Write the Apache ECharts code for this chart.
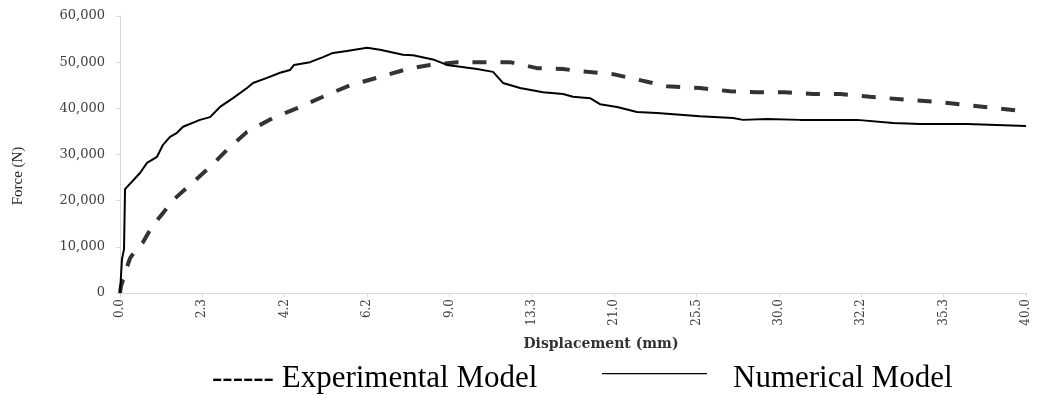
<!DOCTYPE html>
<html>
<head>
<meta charset="utf-8">
<script src="https://cdn.jsdelivr.net/npm/echarts@6/dist/echarts.min.js"></script>
<style>
html,body{margin:0;padding:0;background:#fff;}
#chart{width:1037px;height:394px;}
</style>
</head>
<body>
<div id="chart"></div>
<script>
// X tick labels (displacement, mm) — axis is evenly spaced by tick index
const xTickLabels = ['0.0','2.3','4.2','6.2','9.0','13.3','21.0','25.5','30.0','32.2','35.3','40.0'];
const yTickLabels = ['0','10,000','20,000','30,000','40,000','50,000','60,000'];

// Experimental model: x in tick-index units, force in N
const expX = [0,0.012,0.036,0.061,0.085,0.121,0.206,0.279,0.364,0.401,0.522,0.643,0.850,1.093,1.299,1.542,1.858,2.186,2.513,2.793,3.157,3.485,3.764,4.092,4.408,4.735,5.063,5.379,5.670,5.986,6.314,6.642,7.042,7.407,7.734,8.074,8.414,8.742,9.106,9.592,9.920,10.284,10.600,10.952];
const expY = [0,1500,2800,3500,5600,7500,9700,11000,13600,14700,17300,20100,23400,27300,31000,34900,37900,40300,42900,45000,46800,48500,49400,50000,50000,50000,48700,48500,47900,47400,46100,44800,44400,43700,43500,43500,43100,43100,42500,41800,41400,40700,40100,39400];

// Numerical model
const numX = [0,0.024,0.049,0.061,0.243,0.328,0.449,0.522,0.607,0.692,0.765,0.971,1.093,1.214,1.372,1.542,1.615,1.785,1.943,2.064,2.088,2.113,2.307,2.465,2.586,2.756,2.999,3.157,3.436,3.558,3.800,3.970,4.335,4.529,4.650,4.857,5.136,5.379,5.500,5.707,5.828,6.035,6.277,6.520,7.042,7.443,7.564,7.856,8.256,8.949,9.386,9.714,10.284,11.000];
const numY = [0,7300,9500,22500,26000,28200,29500,32100,33800,34700,36000,37500,38100,40300,42200,44400,45500,46600,47700,48300,47900,49400,50000,51100,52000,52400,53100,52700,51600,51500,50600,49400,48500,47900,45500,44400,43500,43100,42500,42200,40900,40300,39200,39000,38300,37900,37500,37700,37500,37500,36800,36600,36600,36200];

const zip = (xs, ys) => xs.map((x, i) => [x, ys[i]]);

const chart = echarts.init(document.getElementById('chart'), null, {renderer: 'canvas'});
const axisGray = '#d9d9d9';
const labelColor = '#404040';

chart.setOption({
  animation: false,
  backgroundColor: '#ffffff',
  grid: {left: 120, right: 11, top: 16, bottom: 101, containLabel: false},
  xAxis: {
    type: 'value', min: 0, max: 11, interval: 1,
    name: 'Displacement (mm)', nameLocation: 'middle', nameGap: 44,
    nameTextStyle: {fontFamily: 'DejaVu Serif', fontSize: 14, fontWeight: 'bold', color: '#333', padding: [0, 0, 0, 56]},
    axisLine: {show: true, lineStyle: {color: axisGray, width: 1}},
    axisTick: {show: true, length: 4, lineStyle: {color: axisGray}},
    splitLine: {show: false},
    axisLabel: {
      rotate: 90, margin: 6,
      fontFamily: 'DejaVu Serif', fontSize: 12, color: labelColor,
      formatter: v => xTickLabels[Math.round(v)]
    }
  },
  yAxis: {
    type: 'value', min: 0, max: 60000, interval: 10000,
    name: 'Force (N)', nameLocation: 'middle', nameRotate: 90, nameGap: 94,
    nameTextStyle: {fontFamily: 'Liberation Serif', fontSize: 15, color: '#222', padding: [0, 43, 0, 0]},
    axisLine: {show: true, lineStyle: {color: axisGray, width: 1}},
    axisTick: {show: true, length: 4, lineStyle: {color: axisGray}},
    splitLine: {show: false},
    axisLabel: {
      margin: 15, fontFamily: 'DejaVu Serif', fontSize: 13, color: labelColor,
      formatter: v => yTickLabels[Math.round(v / 10000)]
    }
  },
  legend: [
    {
      data: ['Experimental Model'], left: 206, top: 363, padding: 0,
      itemWidth: 0, itemHeight: 0, itemGap: 0,
      formatter: '------ {name}',
      textStyle: {fontFamily: 'Liberation Serif', fontSize: 31, lineHeight: 30, color: '#000'}
    },
    {
      data: ['Numerical Model'], left: 602, top: 363, padding: 0,
      icon: 'path://M0,0H105V1.3H0Z M0,11L0.01,11Z', itemWidth: 105, itemHeight: 11, itemGap: 0,
      itemStyle: {color: '#000', borderWidth: 0},
      lineStyle: {width: 0},
      textStyle: {fontFamily: 'Liberation Serif', fontSize: 31, lineHeight: 30, color: '#000', padding: [0, 0, 0, 21]}
    }
  ],
  series: [
    {
      name: 'Experimental Model', type: 'line', showSymbol: false, smooth: false,
      data: zip(expX, expY),
      color: '#333333',
      lineStyle: {color: '#333333', width: 4, type: [14, 14], cap: 'butt'}
    },
    {
      name: 'Numerical Model', type: 'line', showSymbol: false, smooth: false,
      data: zip(numX, numY),
      color: '#000',
      lineStyle: {color: '#000', width: 2}
    }
  ]
});
</script>
</body>
</html>
